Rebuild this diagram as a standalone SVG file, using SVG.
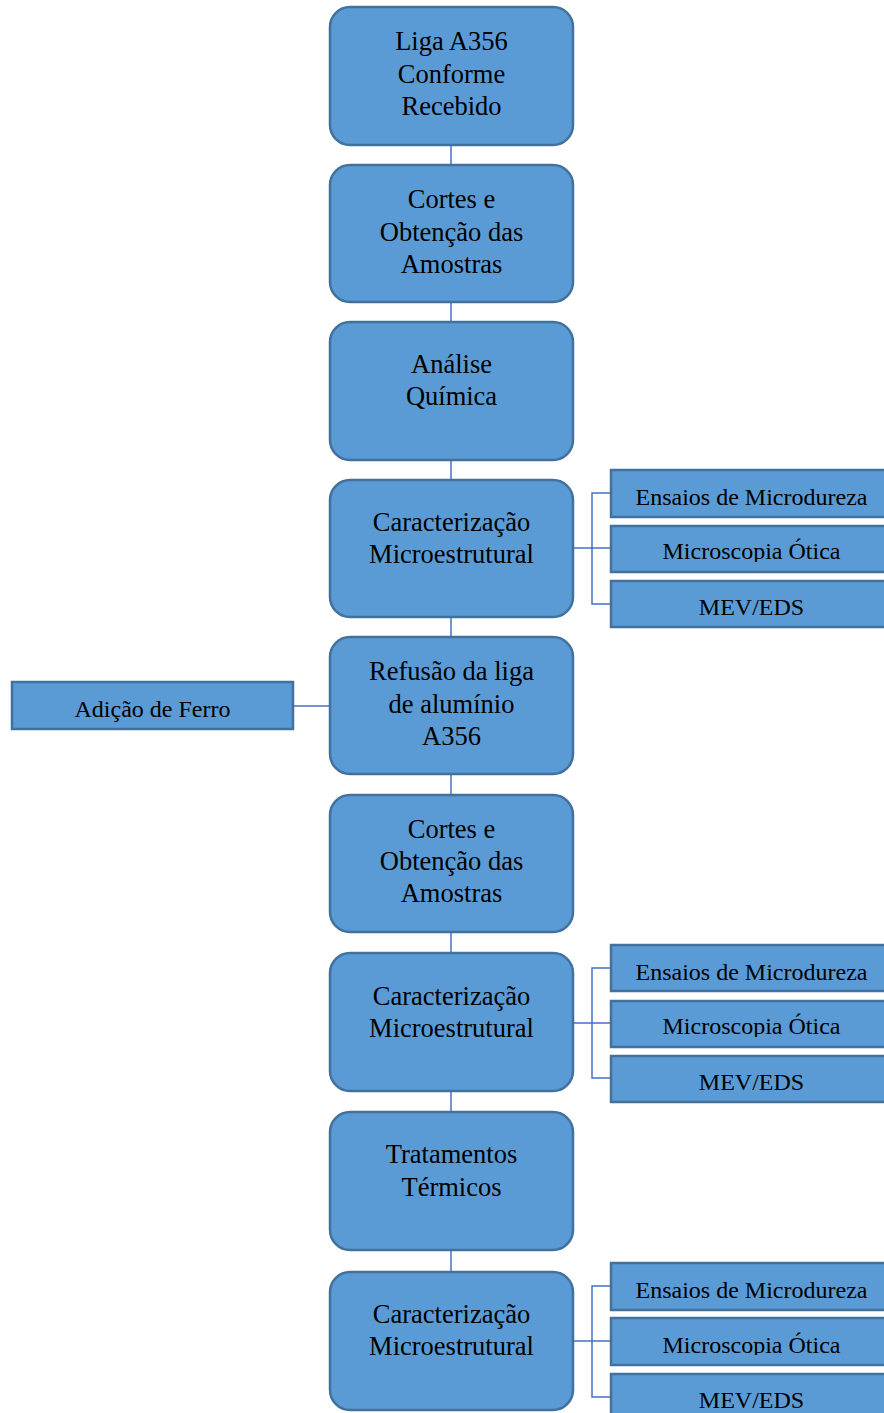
<svg xmlns="http://www.w3.org/2000/svg" width="884" height="1413" viewBox="0 0 884 1413">
  <style>
    .step { fill: #5B9BD5; stroke: #41719C; stroke-width: 2.5; }
    .side { fill: #5B9BD5; stroke: #41719C; stroke-width: 2.5; }
    .t { font-family: "Liberation Serif", "Times New Roman", serif; fill: #000; text-anchor: middle; }
    .tm { font-size: 26.5px; }
    .ts { font-size: 24px; }
    .link { fill: none; stroke: #4472C4; stroke-width: 1.5; }
  </style>
  <defs>
    <clipPath id="clipMO1"><rect x="611" y="526" width="281" height="36"/></clipPath>
    <clipPath id="clipMO2"><rect x="611" y="1001" width="281" height="36"/></clipPath>
    <clipPath id="clipMO3"><rect x="611" y="1318" width="281" height="37"/></clipPath>
  </defs>
  <rect width="884" height="1413" fill="#ffffff"/>

  <!-- connectors -->
  <g id="connectors">
    <line class="link" x1="451" y1="145" x2="451" y2="165"/>
    <line class="link" x1="451" y1="302" x2="451" y2="322"/>
    <line class="link" x1="451" y1="460" x2="451" y2="480"/>
    <line class="link" x1="451" y1="617" x2="451" y2="637"/>
    <line class="link" x1="451" y1="774" x2="451" y2="795"/>
    <line class="link" x1="451" y1="932" x2="451" y2="953"/>
    <line class="link" x1="451" y1="1091" x2="451" y2="1112"/>
    <line class="link" x1="451" y1="1250" x2="451" y2="1272"/>
    <!-- side branches, group 1 -->
    <path class="link" d="M573 548 H592 M611 493 H592 V604 H611 M592 548 H611"/>
    <!-- side branches, group 2 -->
    <path class="link" d="M573 1023 H592 M611 968 H592 V1078 H611 M592 1023 H611"/>
    <!-- side branches, group 3 -->
    <path class="link" d="M573 1341 H592 M611 1286 H592 V1397 H611 M592 1341 H611"/>
    <!-- iron addition -->
    <line class="link" x1="293" y1="706" x2="330" y2="706"/>
  </g>

  <g id="n1">
    <rect class="step" x="330" y="7" width="243" height="138" rx="20"/>
    <text class="t tm" x="451.5" y="50">Liga A356</text>
    <text class="t tm" x="451.5" y="83">Conforme</text>
    <text class="t tm" x="451.5" y="115">Recebido</text>
  </g>
  <g id="n2">
    <rect class="step" x="330" y="165" width="243" height="137" rx="20"/>
    <text class="t tm" x="451.5" y="208">Cortes e</text>
    <text class="t tm" x="451.5" y="241">Obtenção das</text>
    <text class="t tm" x="451.5" y="273">Amostras</text>
  </g>
  <g id="n3">
    <rect class="step" x="330" y="322" width="243" height="138" rx="20"/>
    <text class="t tm" x="451.5" y="373">Análise</text>
    <text class="t tm" x="451.5" y="405">Química</text>
  </g>
  <g id="n4">
    <rect class="step" x="330" y="480" width="243" height="137" rx="20"/>
    <text class="t tm" x="451.5" y="531">Caracterização</text>
    <text class="t tm" x="451.5" y="563">Microestrutural</text>
  </g>
  <g id="n4a">
    <rect class="side" x="611" y="470" width="281" height="47"/>
    <text class="t ts" x="751.5" y="505">Ensaios de Microdureza</text>
  </g>
  <g id="n4b">
    <rect class="side" x="611" y="526" width="281" height="46"/>
    <text class="t ts" x="751.5" y="559" clip-path="url(#clipMO1)">Microscopia Ótica</text>
  </g>
  <g id="n4c">
    <rect class="side" x="611" y="581" width="281" height="46"/>
    <text class="t ts" x="751.5" y="615">MEV/EDS</text>
  </g>
  <g id="n5">
    <rect class="step" x="330" y="637" width="243" height="137" rx="20"/>
    <text class="t tm" x="451.5" y="680">Refusão da liga</text>
    <text class="t tm" x="451.5" y="713">de alumínio</text>
    <text class="t tm" x="451.5" y="745">A356</text>
  </g>
  <g id="n5a">
    <rect class="side" x="12" y="682" width="281" height="47"/>
    <text class="t ts" x="152.5" y="717">Adição de Ferro</text>
  </g>
  <g id="n6">
    <rect class="step" x="330" y="795" width="243" height="137" rx="20"/>
    <text class="t tm" x="451.5" y="838">Cortes e</text>
    <text class="t tm" x="451.5" y="870">Obtenção das</text>
    <text class="t tm" x="451.5" y="902">Amostras</text>
  </g>
  <g id="n7">
    <rect class="step" x="330" y="953" width="243" height="138" rx="20"/>
    <text class="t tm" x="451.5" y="1005">Caracterização</text>
    <text class="t tm" x="451.5" y="1037">Microestrutural</text>
  </g>
  <g id="n7a">
    <rect class="side" x="611" y="945" width="281" height="46"/>
    <text class="t ts" x="751.5" y="980">Ensaios de Microdureza</text>
  </g>
  <g id="n7b">
    <rect class="side" x="611" y="1001" width="281" height="46"/>
    <text class="t ts" x="751.5" y="1034" clip-path="url(#clipMO2)">Microscopia Ótica</text>
  </g>
  <g id="n7c">
    <rect class="side" x="611" y="1056" width="281" height="46"/>
    <text class="t ts" x="751.5" y="1090">MEV/EDS</text>
  </g>
  <g id="n8">
    <rect class="step" x="330" y="1112" width="243" height="138" rx="20"/>
    <text class="t tm" x="451.5" y="1163">Tratamentos</text>
    <text class="t tm" x="451.5" y="1196">Térmicos</text>
  </g>
  <g id="n9">
    <rect class="step" x="330" y="1272" width="243" height="138" rx="20"/>
    <text class="t tm" x="451.5" y="1323">Caracterização</text>
    <text class="t tm" x="451.5" y="1355">Microestrutural</text>
  </g>
  <g id="n9a">
    <rect class="side" x="611" y="1263" width="281" height="47"/>
    <text class="t ts" x="751.5" y="1298">Ensaios de Microdureza</text>
  </g>
  <g id="n9b">
    <rect class="side" x="611" y="1318" width="281" height="47"/>
    <text class="t ts" x="751.5" y="1353" clip-path="url(#clipMO3)">Microscopia Ótica</text>
  </g>
  <g id="n9c">
    <rect class="side" x="611" y="1374" width="281" height="47"/>
    <text class="t ts" x="751.5" y="1408">MEV/EDS</text>
  </g>
</svg>
